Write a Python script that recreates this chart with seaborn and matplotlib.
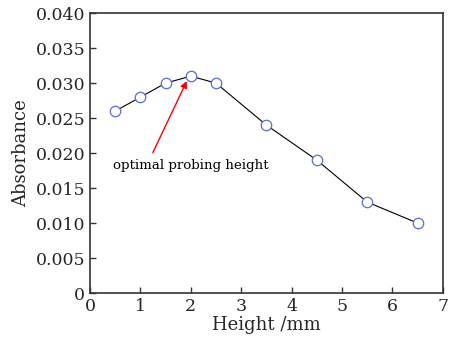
import matplotlib
matplotlib.use("Agg")
import matplotlib.pyplot as plt
import seaborn as sns
import pandas as pd

height_mm = [0.5, 1.0, 1.5, 2.0, 2.5, 3.5, 4.5, 5.5, 6.5]
absorbance = [0.026, 0.028, 0.030, 0.031, 0.030, 0.024, 0.019, 0.013, 0.010]
x_ticks = [0, 1, 2, 3, 4, 5, 6, 7]
y_ticks = [0, 0.005, 0.010, 0.015, 0.020, 0.025, 0.030, 0.035, 0.040]
y_tick_labels = ["0", "0.005", "0.010", "0.015", "0.020", "0.025", "0.030", "0.035", "0.040"]

sns.set_theme(style="ticks")
plt.rcParams["font.family"] = ["DejaVu Serif"]
plt.rcParams["mathtext.fontset"] = "dejavuserif"

df = pd.DataFrame({"Height": height_mm, "Absorbance": absorbance})

fig = plt.figure(figsize=(4.57, 3.46), dpi=100)
ax = fig.add_axes([0.197, 0.153, 0.772, 0.809])

sns.lineplot(data=df, x="Height", y="Absorbance", ax=ax, color="black",
             linewidth=0.8, marker="o", markersize=7.5,
             markerfacecolor="white", markeredgecolor="#5a6fd0",
             markeredgewidth=0.9)

ax.set_xlim(0, 7)
ax.set_ylim(0, 0.040)
ax.set_xticks(x_ticks)
ax.set_xticklabels([str(t) for t in x_ticks])
ax.set_yticks(y_ticks)
ax.set_yticklabels(y_tick_labels)
ax.tick_params(direction="in", length=4, width=1, labelsize=12.5, color="#333333")
for s in ax.spines.values():
    s.set_linewidth(1.2)
    s.set_color("#333333")

ax.set_xlabel("Height /mm", fontsize=13, labelpad=1)
ax.set_ylabel("Absorbance", fontsize=13, labelpad=4)

ax.annotate("optimal probing height", xy=(1.92, 0.0303), xytext=(0.45, 0.0183),
            fontsize=9.6, va="center", ha="left", color="black",
            arrowprops=dict(arrowstyle="-|>", color="red", lw=1.0,
                            shrinkA=2, shrinkB=0, mutation_scale=10,
                            relpos=(0.24, 1.0)))

fig.savefig("out.png", dpi=100)
